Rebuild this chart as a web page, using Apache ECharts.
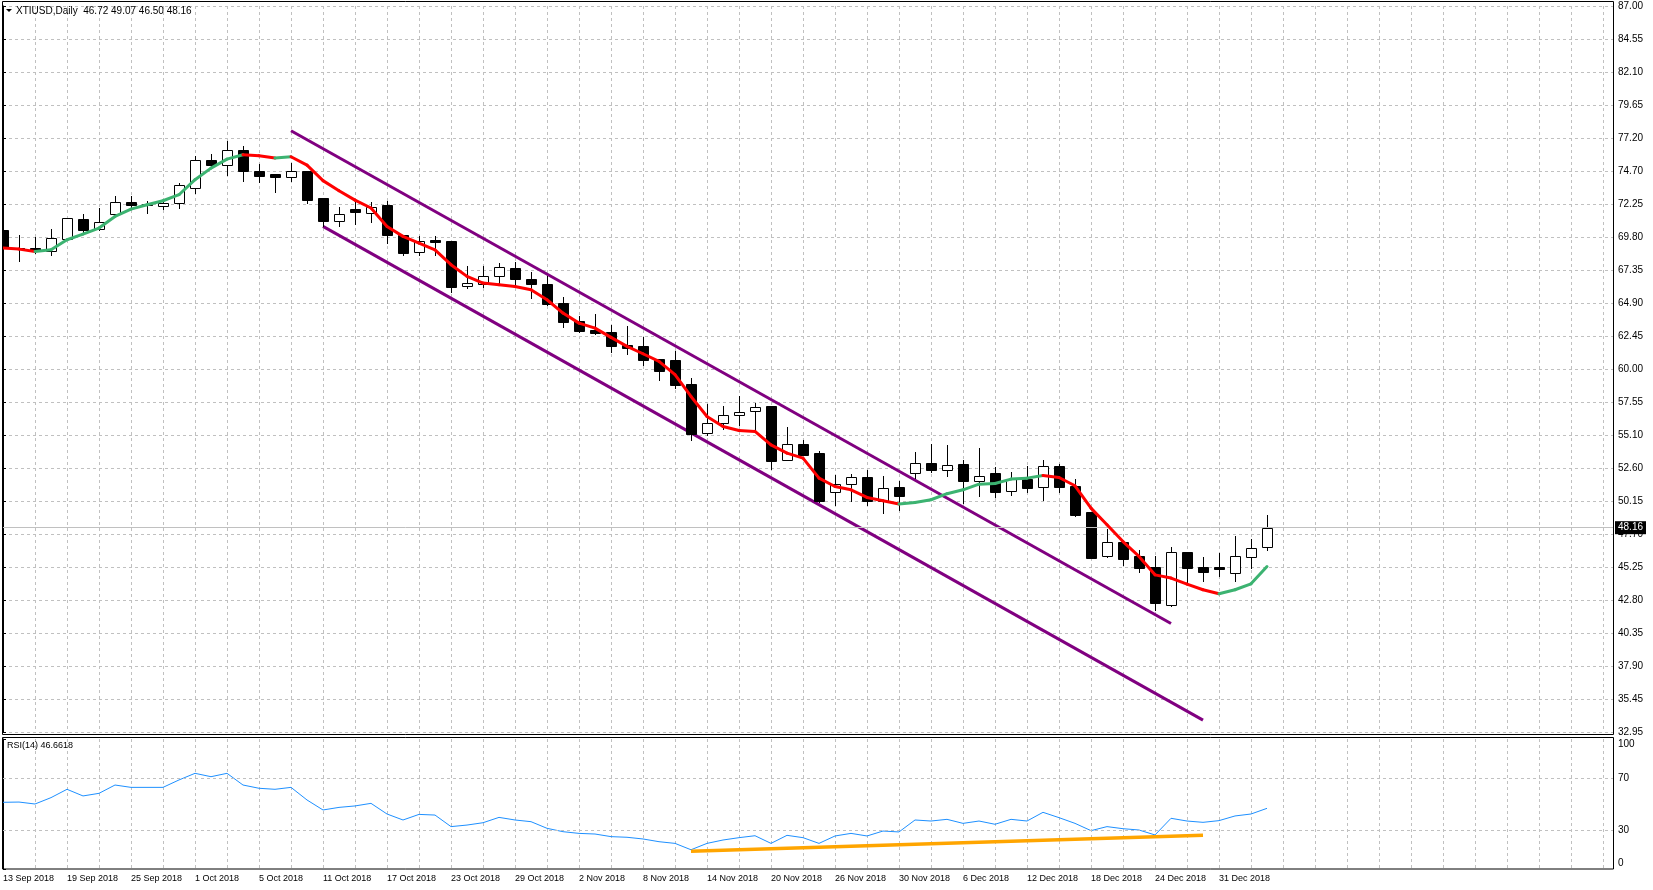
<!DOCTYPE html>
<html>
<head>
<meta charset="utf-8">
<script src="https://cdn.jsdelivr.net/npm/echarts@6/dist/echarts.min.js"></script>
<style>
html,body{margin:0;padding:0;background:#ffffff;}
#chart{width:1653px;height:890px;}
</style>
</head>
<body>
<div id="chart"></div>
<script>
// ---------------- DATA ----------------
const dates = [
  '13 Sep 2018','14 Sep 2018','17 Sep 2018','18 Sep 2018','19 Sep 2018','20 Sep 2018','21 Sep 2018','24 Sep 2018',
  '25 Sep 2018','26 Sep 2018','27 Sep 2018','28 Sep 2018','1 Oct 2018','2 Oct 2018','3 Oct 2018','4 Oct 2018',
  '5 Oct 2018','8 Oct 2018','9 Oct 2018','10 Oct 2018','11 Oct 2018','12 Oct 2018','15 Oct 2018','16 Oct 2018',
  '17 Oct 2018','18 Oct 2018','19 Oct 2018','22 Oct 2018','23 Oct 2018','24 Oct 2018','25 Oct 2018','26 Oct 2018',
  '29 Oct 2018','30 Oct 2018','31 Oct 2018','1 Nov 2018','2 Nov 2018','5 Nov 2018','6 Nov 2018','7 Nov 2018',
  '8 Nov 2018','9 Nov 2018','12 Nov 2018','13 Nov 2018','14 Nov 2018','15 Nov 2018','16 Nov 2018','19 Nov 2018',
  '20 Nov 2018','21 Nov 2018','22 Nov 2018','23 Nov 2018','26 Nov 2018','27 Nov 2018','28 Nov 2018','29 Nov 2018',
  '30 Nov 2018','3 Dec 2018','4 Dec 2018','5 Dec 2018','6 Dec 2018','7 Dec 2018','10 Dec 2018','11 Dec 2018',
  '12 Dec 2018','13 Dec 2018','14 Dec 2018','17 Dec 2018','18 Dec 2018','19 Dec 2018','20 Dec 2018','21 Dec 2018',
  '24 Dec 2018','26 Dec 2018','27 Dec 2018','28 Dec 2018','31 Dec 2018','2 Jan 2019','3 Jan 2019','4 Jan 2019'
];

const openP = [
  70.34,69.00,69.00,68.73,69.65,71.13,70.39,71.50,72.40,72.25,72.10,72.33,73.45,75.50,75.18,76.27,
  74.70,74.50,74.26,74.70,72.70,70.96,71.90,71.58,72.20,69.97,68.68,69.55,69.53,66.17,66.30,66.87,
  67.49,66.67,66.30,64.88,63.52,62.90,62.72,61.73,61.71,60.71,60.66,58.88,55.20,55.95,56.54,56.84,
  57.24,53.22,54.38,53.71,50.81,51.41,51.93,50.12,51.18,52.22,52.97,52.42,52.89,51.60,52.22,50.91,
  51.80,51.18,52.77,51.28,49.32,46.02,47.09,46.07,45.27,42.42,46.34,45.23,45.23,44.78,45.97,46.72
];
const highP = [
  70.40,69.97,69.77,70.42,71.21,71.53,71.96,72.88,72.88,72.50,72.64,73.84,75.85,76.00,76.97,76.55,
  75.26,74.50,75.30,74.70,72.70,72.00,72.40,72.40,72.45,69.97,69.85,69.85,69.53,67.66,67.66,67.86,
  67.94,67.19,66.87,65.33,63.94,64.06,63.27,63.15,62.35,60.71,61.28,59.30,57.36,57.19,57.93,57.44,
  57.24,55.65,54.66,53.84,52.10,52.18,52.42,52.03,51.65,53.76,54.41,54.33,53.17,54.09,52.67,52.30,
  52.77,53.22,52.89,51.78,49.32,48.08,47.09,46.52,46.02,46.76,46.34,45.97,46.27,47.56,47.31,49.07
];
const lowP = [
  68.36,67.99,68.60,68.48,69.60,70.10,70.35,71.33,71.96,71.58,71.90,71.97,73.08,75.06,74.39,73.94,
  73.87,73.12,73.99,72.37,70.59,70.64,70.79,70.89,69.35,68.48,68.48,68.48,65.68,66.00,66.05,66.37,
  66.25,65.26,64.76,63.07,62.70,62.60,61.21,61.11,60.29,59.18,58.55,54.66,55.08,55.50,55.82,55.33,
  52.52,53.17,53.59,50.10,49.87,50.12,49.87,49.25,49.50,51.85,52.27,51.98,49.99,50.49,50.41,50.56,
  50.81,50.24,50.79,49.00,45.87,46.00,45.35,44.83,42.05,42.30,44.08,44.16,44.53,44.16,45.15,46.50
];
const closeP = [
  68.98,68.96,68.80,69.72,71.21,70.34,70.91,72.40,72.15,72.22,72.33,73.65,75.50,75.13,76.25,74.68,
  74.31,74.26,74.70,72.57,70.96,71.50,71.63,72.07,69.97,68.60,69.48,69.45,66.08,66.37,66.87,67.54,
  66.67,66.30,64.81,63.47,62.77,62.65,61.66,61.53,60.66,59.80,58.75,55.15,55.95,56.57,56.79,57.14,
  53.09,54.38,53.59,50.12,51.41,51.93,50.12,51.11,50.49,52.97,52.42,52.80,51.60,51.98,50.79,51.80,
  51.11,52.72,51.18,49.07,45.87,47.09,45.85,45.15,42.54,46.34,45.15,44.85,45.08,46.09,46.64,48.16
];

// moving average (drawn red while falling, green while rising)
const maLine = [
  68.98,68.90,68.73,68.85,69.60,70.02,70.47,71.33,71.88,72.20,72.50,72.95,74.07,74.93,75.60,75.93,
  75.85,75.68,75.78,75.15,74.00,73.25,72.55,71.96,70.59,69.85,69.35,68.85,67.74,66.87,66.37,66.25,
  66.12,65.88,65.13,64.14,63.39,63.02,62.33,61.66,61.11,60.54,59.55,57.93,56.44,55.70,55.40,55.33,
  54.33,53.71,53.34,51.85,51.23,50.98,50.41,50.16,49.92,50.04,50.24,50.69,50.98,51.40,51.45,51.78,
  51.85,52.05,51.90,51.28,49.62,48.38,47.13,46.02,44.65,44.41,43.96,43.54,43.24,43.54,43.98,45.27
];

// RSI(14)
const rsiValues = [
  51.3,51.5,50.0,54.9,61.3,56.2,58.2,64.6,62.8,62.8,62.8,68.5,73.6,71.0,73.6,64.6,
  62.1,61.3,62.8,53.1,45.4,47.4,48.5,50.5,42.3,37.7,42.0,41.5,32.6,33.8,35.6,39.7,
  37.7,36.4,31.3,28.7,27.4,26.9,24.9,24.4,23.1,21.0,19.7,14.8,19.7,22.3,24.1,25.6,
  19.7,25.9,24.1,19.7,25.4,27.4,25.4,29.2,28.5,37.7,36.9,38.2,35.1,36.9,34.4,38.2,
  36.9,43.6,39.5,35.1,29.5,32.6,31.0,30.0,26.2,39.0,36.9,35.9,37.2,40.8,42.3,46.6618
];

// channel trend lines: [candle index, price]
const channelUpper = [[18, 77.71], [73, 41.03]];
const channelLower = [[20, 70.59], [75, 33.83]];
// RSI support line: [candle index, rsi]
const rsiTrend = [[43, 13.6], [75, 25.9]];

const priceTicks = ['32.95','35.45','37.90','40.35','42.80','45.25','47.70','50.15','52.60','55.10','57.55',
  '60.00','62.45','64.90','67.35','69.80','72.25','74.70','77.20','79.65','82.10','84.55','87.00'];
const rsiTicks = [0, 30, 70, 100];

const symbolName = 'XTIUSD,Daily';
const rsiName = 'RSI(14)';

// ---------------- CHART ----------------
const PMIN = 32.95, PMAX = 87.00;
const PSTEP = (PMAX - PMIN) / (priceTicks.length - 1);
const XMAX = 100.625;
const FONT = 'Liberation Sans, Arial, sans-serif';
const GRIDC = '#c0c0c0';
const last = dates.length - 1;

const candleData = dates.map((d, i) => [i, openP[i], closeP[i], lowP[i], highP[i]]);
const maData = maLine.map((v, i) => [i, v]);
const rsiData = rsiValues.map((v, i) => [i, v]);

function renderCandle(params, api) {
  const i = api.value(0);
  const o = api.value(1), c = api.value(2), l = api.value(3), h = api.value(4);
  const pO = api.coord([i, o]), pC = api.coord([i, c]);
  const pL = api.coord([i, l]), pH = api.coord([i, h]);
  const x = Math.round(pO[0]) + 0.5;
  let top = Math.round(Math.min(pO[1], pC[1])) + 0.5;
  let bot = Math.round(Math.max(pO[1], pC[1])) + 0.5;
  if (bot - top < 1) bot = top + 1;
  const bull = c >= o;
  return {
    type: 'group',
    children: [
      { type: 'line', shape: { x1: x, y1: Math.round(pH[1]), x2: x, y2: Math.round(pL[1]) + 1 },
        style: { stroke: '#000', lineWidth: 1 } },
      { type: 'rect', shape: { x: x - 5, y: top, width: 10, height: bot - top },
        style: { fill: bull ? '#ffffff' : '#000000', stroke: '#000000', lineWidth: 1 } }
    ]
  };
}

function renderMA(params, api) {
  const i = api.value(0);
  if (i >= maLine.length - 1) return null;
  const a = api.coord([i, maLine[i]]);
  const b = api.coord([i + 1, maLine[i + 1]]);
  const up = maLine[i + 1] > maLine[i];
  return {
    type: 'line',
    shape: { x1: a[0], y1: a[1], x2: b[0], y2: b[1] },
    style: { stroke: up ? '#3cb371' : '#ff0000', lineWidth: 3, lineCap: 'round' }
  };
}

const chart = echarts.init(document.getElementById('chart'), null, { renderer: 'canvas' });

const option = {
  animation: false,
  backgroundColor: '#ffffff',
  textStyle: { fontFamily: FONT },
  grid: [
    { left: 3, top: 6, width: 1610, height: 726 },
    { left: 3, top: 739, width: 1610, height: 130 }
  ],
  xAxis: [
    {
      type: 'value', gridIndex: 0, min: 0, max: XMAX, interval: 2,
      axisLine: { show: false }, axisTick: { show: false }, axisLabel: { show: false },
      splitLine: { show: true, lineStyle: { color: GRIDC, type: [3, 3], width: 1 } }
    },
    {
      type: 'value', gridIndex: 1, min: 0, max: XMAX, interval: 2,
      axisLine: { show: false }, axisTick: { show: false },
      axisLabel: {
        show: true, align: 'left', margin: 5, fontSize: 9, color: '#000', fontFamily: FONT,
        showMaxLabel: false,
        formatter: function (v) {
          const i = Math.round(v);
          if (Math.abs(v - i) > 1e-6 || i % 4 !== 0 || i < 0 || i >= dates.length) return '';
          return dates[i];
        }
      },
      splitLine: { show: true, lineStyle: { color: GRIDC, type: [3, 3], width: 1 } }
    }
  ],
  yAxis: [
    {
      type: 'value', gridIndex: 0, position: 'right', min: PMIN, max: PMAX, interval: PSTEP,
      axisLine: { show: true, lineStyle: { color: '#000', width: 1 } },
      axisTick: { show: true, length: 3, lineStyle: { color: '#000' } },
      axisLabel: {
        margin: 5, fontSize: 10, color: '#000', fontFamily: FONT,
        formatter: function (v) {
          const k = Math.round((v - PMIN) / PSTEP);
          if (Math.abs(v - (PMIN + k * PSTEP)) > 1e-3) return '';
          return priceTicks[k] || '';
        }
      },
      splitLine: { show: true, lineStyle: { color: GRIDC, type: [3, 3], width: 1 } }
    },
    {
      type: 'value', gridIndex: 1, position: 'right', min: 0, max: 100,
      axisLine: { show: true, lineStyle: { color: '#000', width: 1 } },
      axisTick: { show: true, length: 3, customValues: rsiTicks, lineStyle: { color: '#000' } },
      axisLabel: {
        margin: 5, fontSize: 10, color: '#000', fontFamily: FONT,
        customValues: rsiTicks,
        formatter: function (v) {
          if (v === 100) return '{t|' + v + '}';
          if (v === 0) return '{b|' + v + '}';
          return '' + v;
        },
        rich: {
          t: { fontSize: 10, color: '#000', fontFamily: FONT, padding: [10, 0, 0, 0] },
          b: { fontSize: 10, color: '#000', fontFamily: FONT, padding: [0, 0, 12, 0] }
        }
      },
      splitLine: { show: false }
    }
  ],
  graphic: [
    { type: 'rect', shape: { x: 2.5, y: 1.5, width: 1611, height: 733 },
      style: { fill: 'none', stroke: '#000', lineWidth: 1 }, silent: true, z: 100 },
    { type: 'rect', shape: { x: 2.5, y: 737.5, width: 1611, height: 131.5 },
      style: { fill: 'none', stroke: '#000', lineWidth: 1 }, silent: true, z: 100 },
    { type: 'polygon', shape: { points: [[6, 9], [12, 9], [9, 12]] },
      style: { fill: '#000' }, silent: true, z: 100 },
    { type: 'text', x: 16, y: 11, z: 100, silent: true,
      style: {
        text: symbolName + '  ' + openP[last].toFixed(2) + ' ' + highP[last].toFixed(2) + ' ' +
              lowP[last].toFixed(2) + ' ' + closeP[last].toFixed(2),
        fill: '#000', font: '10px ' + FONT, verticalAlign: 'middle', align: 'left'
      } },
    { type: 'text', x: 7, y: 746, z: 100, silent: true,
      style: { text: rsiName + ' ' + rsiValues[last].toFixed(4), fill: '#000',
        font: '9px ' + FONT, verticalAlign: 'middle', align: 'left' } }
  ],
  series: [
    {
      type: 'line', name: 'channelUpper', xAxisIndex: 0, yAxisIndex: 0,
      data: channelUpper, symbol: 'none', clip: true, z: 3,
      lineStyle: { color: '#800080', width: 3 }
    },
    {
      type: 'line', name: 'channelLower', xAxisIndex: 0, yAxisIndex: 0,
      data: channelLower, symbol: 'none', clip: true, z: 3,
      lineStyle: { color: '#800080', width: 3 }
    },
    {
      type: 'custom', name: 'price', xAxisIndex: 0, yAxisIndex: 0,
      data: candleData, renderItem: renderCandle, clip: true, z: 4,
      encode: { x: 0, y: [1, 2, 3, 4] },
      markLine: {
        silent: true, symbol: ['none', 'none'], animation: false,
        lineStyle: { color: '#c0c0c0', type: 'solid', width: 1 },
        label: {
          show: true, position: 'end', distance: 2,
          formatter: closeP[last].toFixed(2),
          backgroundColor: '#000', color: '#fff', fontSize: 10, fontFamily: FONT,
          padding: [2, 3, 1, 3]
        },
        data: [{ yAxis: closeP[last] }]
      }
    },
    {
      type: 'custom', name: 'ma', xAxisIndex: 0, yAxisIndex: 0,
      data: maData, renderItem: renderMA, clip: true, z: 5,
      encode: { x: 0, y: 1 }
    },
    {
      type: 'line', name: 'rsi', xAxisIndex: 1, yAxisIndex: 1,
      data: rsiData, symbol: 'none', clip: true, z: 3,
      lineStyle: { color: '#1e90ff', width: 1 },
      markLine: {
        silent: true, symbol: ['none', 'none'], animation: false,
        label: { show: false },
        lineStyle: { color: GRIDC, type: [3, 3], width: 1 },
        data: [{ yAxis: 30 }, { yAxis: 70 }]
      }
    },
    {
      type: 'line', name: 'rsiTrend', xAxisIndex: 1, yAxisIndex: 1,
      data: rsiTrend, symbol: 'none', clip: true, z: 4,
      lineStyle: { color: '#ffa500', width: 3.5 }
    }
  ]
};

chart.setOption(option);
</script>
</body>
</html>
